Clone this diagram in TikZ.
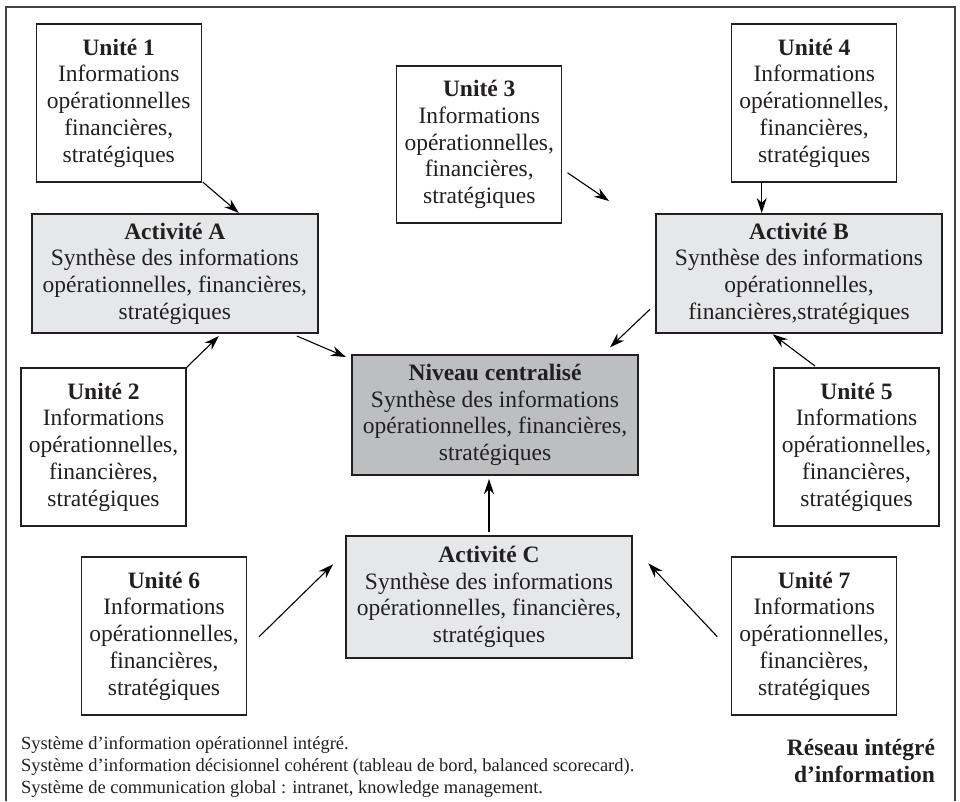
\documentclass[tikz,border=0pt]{standalone}
\usepackage{fontspec}
\setmainfont{Liberation Serif}
\usetikzlibrary{arrows.meta,calc}
\definecolor{lightfill}{HTML}{E6E7E8}
\definecolor{darkfill}{HTML}{BCBEC0}
\definecolor{ink}{HTML}{231F20}
\begin{document}
\begin{tikzpicture}[x=1pt,y=-1pt,
  every node/.style={inner sep=0pt, outer sep=0pt, align=center, text=ink,
    font=\fontsize{23.5pt}{26.7pt}\selectfont},
  unitbox/.style={draw=ink, line width=1.3pt, fill=white, minimum width=165pt, minimum height=158pt},
  actbox/.style={draw=ink, line width=1.3pt, fill=lightfill, minimum width=286pt, minimum height=120pt},
  centbox/.style={draw=ink, line width=1.3pt, fill=darkfill, minimum width=286pt, minimum height=120pt},
  flow/.style={draw=black, line width=1.1pt, -{Stealth[length=15pt,width=10pt]}},
  frame/.style={draw=ink!85, line width=1.4pt}
]
\useasboundingbox (0,0) rectangle (960,801);
\draw[frame] (6,801) -- (6,7) -- (955,7) -- (955,801);

\node[unitbox] (u1) at (118.75,103) {\textbf{Unité 1}\\Informations\\opérationnelles\\financières,\\stratégiques};
\node[unitbox, minimum height=157pt] (u3) at (479.25,144.5) {\textbf{Unité 3}\\Informations\\opérationnelles,\\financières,\\stratégiques};
\node[unitbox] (u4) at (814.2,103) {\textbf{Unité 4}\\Informations\\opérationnelles,\\financières,\\stratégiques};
\node[actbox, minimum height=119pt] (A) at (174.85,273.5) {\textbf{Activité A}\\Synthèse des informations\\opérationnelles, financières,\\stratégiques};
\node[actbox, minimum height=119pt] (B) at (799,273.5) {\textbf{Activité B}\\Synthèse des informations\\opérationnelles,\\financières,stratégiques};
\node[centbox] (N) at (495,415) {\textbf{Niveau centralisé}\\Synthèse des informations\\opérationnelles, financières,\\stratégiques};
\node[unitbox] (u2) at (103.5,447) {\textbf{Unité 2}\\Informations\\opérationnelles,\\financières,\\stratégiques};
\node[unitbox] (u5) at (856.5,447) {\textbf{Unité 5}\\Informations\\opérationnelles,\\financières,\\stratégiques};
\node[actbox, minimum height=122pt] (C) at (489,597) {\textbf{Activité C}\\Synthèse des informations\\opérationnelles, financières,\\stratégiques};
\node[unitbox] (u6) at (164,636) {\textbf{Unité 6}\\Informations\\opérationnelles,\\financières,\\stratégiques};
\node[unitbox] (u7) at (814.2,636) {\textbf{Unité 7}\\Informations\\opérationnelles,\\financières,\\stratégiques};

\coordinate (u3end) at (609,201);

\draw[flow] ($(u1.south east)+(1.5,0)$) -- ($(A.north west)+(207,-1)$);
\draw[flow] (u2.north east) -- ($(A.south west)+(187,3)$);
\draw[flow] ($(A.south west)+(265,3)$) -- ($(N.north west)+(-6,2)$);
\draw[flow] ($(u3.east)+(5.7,28.2)$) -- (u3end);
\draw[flow] ($(u4.south west)+(30,0)$) -- ($(B.north west)+(105.7,-1)$);
\draw[flow] ($(B.south west)+(-6,-23.7)$) -- ($(N.north east)+(-28,-7.7)$);
\draw[flow] ($(u5.north west)+(41,-2)$) -- ($(B.south west)+(116.7,1.3)$);
\draw[flow] ($(C.north)+(0,-4)$) -- ($(C.north |- N.south)+(0,4)$);
\draw[flow] ($(u6.east)+(12.3,1)$) -- ($(C.west)+(-13,-32.7)$);
\draw[flow] ($(u7.west)+(-14.4,0.7)$) -- ($(C.east)+(16.3,-33.7)$);

\node[anchor=base west, align=left, font=\fontsize{18.5pt}{22pt}\selectfont] (legend) at (21,793)
  {Système d’information opérationnel intégré.\\
   Système d’information décisionnel cohérent (tableau de bord, balanced scorecard).\\
   Système de communication global : intranet, knowledge management.};
\node[anchor=base east, align=right, font=\bfseries\fontsize{23.5pt}{27pt}\selectfont] (title) at (935,782)
  {Réseau intégré\\d’information};
\end{tikzpicture}
\end{document}
